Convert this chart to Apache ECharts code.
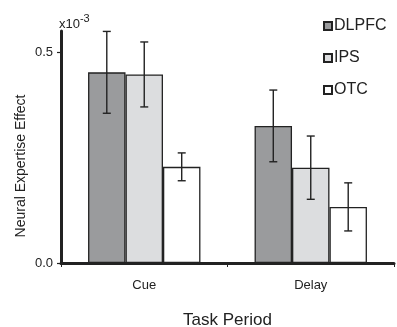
<!DOCTYPE html>
<html>
<head>
<meta charset="utf-8">
<script src="https://cdn.jsdelivr.net/npm/echarts@6/dist/echarts.min.js"></script>
<style>
  html, body { margin: 0; padding: 0; background: #fff; }
  #chart { width: 397px; height: 327px; }
</style>
</head>
<body>
<div id="chart"></div>
<script>
// values are in units of 1e-3
const categories = ["Cue", "Delay"];
const regions = ["DLPFC", "IPS", "OTC"];
const colors = ["#9a9b9d", "#dcdddf", "#ffffff"];
const dlpfc = [0.452, 0.325];
const ips = [0.447, 0.226];
const otc = [0.228, 0.133];
const dlpfcErr = [0.097, 0.085];
const ipsErr = [0.077, 0.075];
const otcErr = [0.033, 0.057];
const yTicks = [0, 0.5];

const means = [dlpfc, ips, otc];
const errs = [dlpfcErr, ipsErr, otcErr];
const BAR_FRAC = 0.225;
const FONT = "Liberation Sans, Arial, sans-serif";

const chart = echarts.init(document.getElementById("chart"));

const barSeries = regions.map((name, i) => ({
    name,
    type: "bar",
    data: means[i],
    barWidth: (BAR_FRAC * 100) + "%",
    barGap: "0%",
    itemStyle: { color: colors[i], borderColor: "#222", borderWidth: 1.3 },
    z: 2
}));

const errSeries = regions.map((name, i) => ({
    type: "custom",
    name: name + "_err",
    data: categories.map((c, k) => [k, means[i][k], errs[i][k]]),
    z: 5,
    renderItem(params, api) {
        const k = api.value(0);
        const m = api.value(1);
        const e = api.value(2);
        const bandW = api.size([1, 0])[0];
        const off = bandW * BAR_FRAC * (i - 1);
        const top = api.coord([k, m + e]);
        const bot = api.coord([k, m - e]);
        const x = top[0] + off;
        const cap = 4;
        const st = { stroke: "#222", lineWidth: 1.4 };
        return {
            type: "group",
            children: [
                { type: "line", shape: { x1: x, y1: top[1], x2: x, y2: bot[1] }, style: st },
                { type: "line", shape: { x1: x - cap, y1: top[1], x2: x + cap, y2: top[1] }, style: st },
                { type: "line", shape: { x1: x - cap, y1: bot[1], x2: x + cap, y2: bot[1] }, style: st }
            ]
        };
    }
}));

chart.setOption({
    animation: false,
    textStyle: { fontFamily: FONT },
    grid: { left: 61, right: 3, top: 31, bottom: 64, outerBoundsMode: "none" },
    legend: {
        data: regions,
        orient: "vertical",
        left: 318,
        top: 13,
        itemWidth: 8,
        itemHeight: 8,
        itemGap: 16,
        icon: "rect",
        textStyle: { fontSize: 16, color: "#222", fontFamily: FONT, padding: [0, 0, 0, -3] }
    },
    xAxis: {
        type: "category",
        data: categories,
        axisLine: { lineStyle: { color: "#222", width: 3 } },
        axisTick: { show: true, length: 4, lineStyle: { color: "#222", width: 1 } },
        axisLabel: { fontSize: 13, color: "#222", margin: 16 },
        name: "Task Period",
        nameLocation: "middle",
        nameGap: 49,
        nameTextStyle: { fontSize: 17, color: "#222" }
    },
    yAxis: {
        type: "value",
        min: 0,
        max: 0.55,
        axisLine: { show: true, lineStyle: { color: "#222", width: 3 } },
        axisTick: { show: true, length: 4, customValues: yTicks, lineStyle: { color: "#222", width: 1.2 } },
        axisLabel: {
            customValues: yTicks,
            fontSize: 13,
            color: "#222",
            margin: 8,
            formatter: v => v.toFixed(1)
        },
        splitLine: { show: false }
    },
    graphic: [{
        type: "text",
        left: 59,
        top: 13,
        style: {
            text: "{b|x10}{s|-3}",
            rich: {
                b: { fontSize: 13, fontFamily: FONT, fill: "#222", verticalAlign: "bottom" },
                s: { fontSize: 11, fontFamily: FONT, fill: "#222", verticalAlign: "top", padding: [0, 0, 7, 0] }
            }
        }
    }, {
        type: "text",
        x: 21,
        y: 166,
        rotation: Math.PI / 2,
        style: {
            text: "Neural Expertise Effect",
            fontSize: 14,
            fontFamily: FONT,
            fill: "#222",
            align: "center",
            verticalAlign: "middle"
        }
    }],
    series: [...barSeries, ...errSeries]
});
</script>
</body>
</html>
